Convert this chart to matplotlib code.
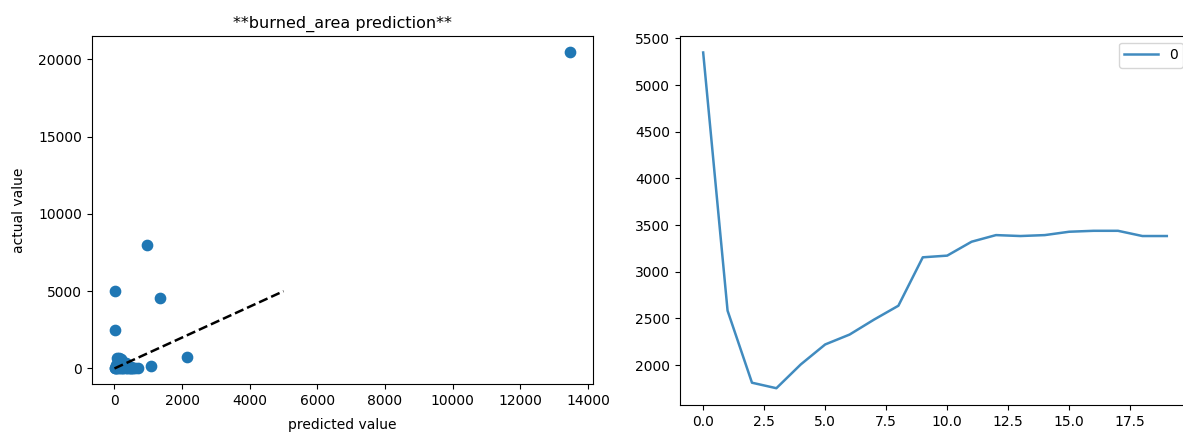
import matplotlib
matplotlib.use("Agg")
import matplotlib.pyplot as plt
import numpy as np

# Left panel: predicted vs actual burned area
predicted = [13485, 960, 21, 1355, 21, 2146, 1088, 693,
             10, 30, 50, 80, 100, 120, 150, 180, 200, 220, 250, 280, 300, 330,
             350, 380, 400, 420, 450, 480, 500, 520, 560, 600,
             60, 90, 130, 170, 210, 260, 310, 40, 70, 140, 240]
actual = [20505, 8000, 4990, 4560, 2510, 740, 130, 0,
          0, 50, 10, 100, 0, 300, 20, 600, 50, 450, 0, 200, 80, 0,
          350, 10, 150, 0, 60, 0, 120, 30, 0, 20,
          700, 550, 650, 400, 500, 250, 100, 200, 0, 100, 50]
ref_line = [0, 5000]

# Right panel: error curve
steps = list(range(20))
errors = [5350, 2583, 1811, 1752, 2007, 2221, 2327, 2487, 2636, 3155,
          3173, 3322, 3393, 3383, 3393, 3429, 3439, 3439, 3383, 3383]
series_name = "0"

fig = plt.figure(figsize=(11.83, 4.36), dpi=100)
ax1 = fig.add_axes([0.0775, 0.1186, 0.424, 0.7995])
ax2 = fig.add_axes([0.5748, 0.0711, 0.4311, 0.847])

ax1.scatter(predicted, actual, s=55, color="#1f77b4")
ax1.plot(ref_line, ref_line, "k--", lw=1.8)
ax1.set_title("**burned_area prediction**", fontsize=11.5)
ax1.set_xlabel("predicted value", labelpad=7)
ax1.set_ylabel("actual value", labelpad=9)
ax1.set_xticks(np.arange(0, 14001, 2000))

ax2.plot(steps, errors, color="#1f77b4", alpha=0.85, lw=1.8, label=series_name)
ax2.set_xlim(-0.95, 19.95)
ax2.set_xticks(np.arange(0, 17.6, 2.5))
ax2.set_yticks(np.arange(2000, 5501, 500))
ax2.legend(loc="upper right", handlelength=2.4)

fig.savefig("out.png", dpi=100)
